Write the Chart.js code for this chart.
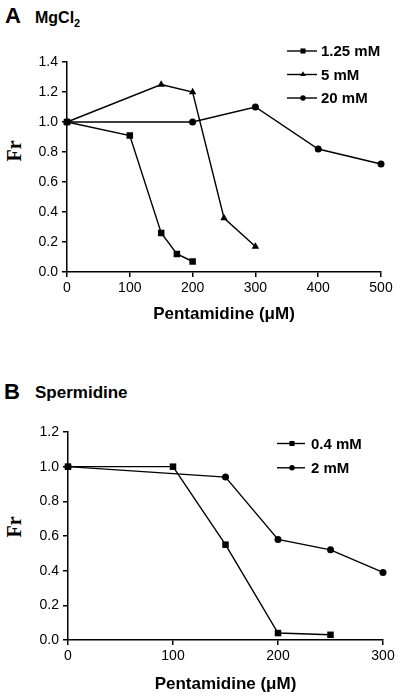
<!DOCTYPE html>
<html>
<head>
<meta charset="utf-8">
<script src="https://cdn.jsdelivr.net/npm/chart.js@4"></script>
<style>
  body { margin: 0; background: #fff; }
  #page { position: relative; width: 400px; height: 699px; overflow: hidden; font-family: "Liberation Sans", Arial, Helvetica, sans-serif; color: #000; }
  canvas { position: absolute; left: 0; }
  .lbl { position: absolute; font-weight: bold; line-height: 1; white-space: nowrap; }
  .fr { position: absolute; font-family: "Liberation Serif", "Times New Roman", serif; font-weight: bold; font-size: 20px; line-height: 1; transform: translate(-50%, -50%) rotate(-90deg); }
</style>
</head>
<body>
<div id="page">
  <div class="lbl" style="left:5px; top:5px; font-size:22px;">A</div>
  <div class="lbl" style="left:35px; top:10px; font-size:16px;">MgCl<sub style="font-size:11px;">2</sub></div>
  <div class="fr" style="left:14px; top:151px;">Fr</div>
  <canvas id="chartA" width="400" height="325" style="top:0px;"></canvas>

  <div class="lbl" style="left:4px; top:381px; font-size:22px;">B</div>
  <div class="lbl" style="left:35px; top:384px; font-size:17px;">Spermidine</div>
  <div class="fr" style="left:14px; top:527px;">Fr</div>
  <canvas id="chartB" width="400" height="315" style="top:380px;"></canvas>
</div>
<script>
// ===== Data: panel A (MgCl2) =====
const xA_125 = [0, 100, 150, 175, 200];
const yA_125 = [1.0, 0.91, 0.26, 0.12, 0.07];
const xA_5 = [0, 150, 200, 250, 300];
const yA_5 = [1.0, 1.25, 1.2, 0.36, 0.17];
const xA_20 = [0, 200, 300, 400, 500];
const yA_20 = [1.0, 1.0, 1.1, 0.82, 0.72];
const xTicksA = [0, 100, 200, 300, 400, 500];
const yTicksA = [0.0, 0.2, 0.4, 0.6, 0.8, 1.0, 1.2, 1.4];

// ===== Data: panel B (Spermidine) =====
const xB_04 = [0, 100, 150, 200, 250];
const yB_04 = [1.0, 1.0, 0.55, 0.04, 0.03];
const xB_2 = [0, 150, 200, 250, 300];
const yB_2 = [1.0, 0.94, 0.58, 0.52, 0.39];
const xTicksB = [0, 100, 200, 300];
const yTicksB = [0.0, 0.2, 0.4, 0.6, 0.8, 1.0, 1.2];

const FONT = '"Liberation Sans", Arial, Helvetica, sans-serif';
Chart.defaults.font.family = FONT;
Chart.defaults.color = '#000';

function pts(xs, ys) {
    return xs.map((x, i) => ({ x: x, y: ys[i] }));
}

function series(label, xs, ys, style, radius) {
    return {
        label: label,
        data: pts(xs, ys),
        pointStyle: style,
        pointRadius: radius,
        pointHoverRadius: radius,
        pointBackgroundColor: '#000',
        pointBorderColor: '#000',
        pointBorderWidth: 0,
        borderColor: '#000',
        borderWidth: 1.4,
        backgroundColor: '#000',
        tension: 0,
        clip: false
    };
}

// ===== Legend: line segment + marker + bold text =====
const lineLegend = {
    id: 'lineLegend',
    afterDraw(chart, args, opts) {
        const ctx = chart.ctx;
        chart.data.datasets.forEach((ds, i) => {
            const y = opts.y0 + i * opts.dy;
            ctx.save();
            ctx.strokeStyle = '#000';
            ctx.fillStyle = '#000';
            ctx.lineWidth = 1.4;
            ctx.beginPath();
            ctx.moveTo(opts.x0, y);
            ctx.lineTo(opts.x1, y);
            ctx.stroke();
            Chart.helpers.drawPoint(ctx, {
                pointStyle: ds.pointStyle,
                radius: opts.radius[ds.pointStyle],
                rotation: 0,
                borderWidth: 0
            }, opts.mx, y);
            ctx.font = 'bold 15px ' + FONT;
            ctx.textBaseline = 'middle';
            ctx.textAlign = 'left';
            ctx.fillText(ds.label, opts.tx, y + 1);
            ctx.restore();
        });
    }
};

function makeChart(id, datasets, xMax, xTicks, yMax, yTicks, geo) {
    const ctx = document.getElementById(id).getContext('2d');
    return new Chart(ctx, {
        type: 'line',
        data: { datasets: datasets },
        plugins: [lineLegend],
        options: {
            responsive: false,
            animation: false,
            events: [],
            layout: { padding: { left: 0, right: geo.right, top: geo.top, bottom: 0 } },
            plugins: {
                legend: { display: false },
                tooltip: { enabled: false },
                lineLegend: geo.legend
            },
            scales: {
                x: {
                    type: 'linear',
                    min: 0,
                    max: xMax,
                    afterBuildTicks: (s) => { s.ticks = xTicks.map(v => ({ value: v })); },
                    afterFit: (s) => { s.height = geo.xHeight; },
                    border: { display: true, color: '#000', width: 1.5 },
                    grid: { display: true, drawOnChartArea: false, drawTicks: true, tickLength: 5, color: '#000', lineWidth: 1.5 },
                    ticks: { color: '#000', font: { size: 14 }, padding: 3, maxRotation: 0, callback: v => String(v) },
                    title: { display: true, text: 'Pentamidine (\u03BCM)', color: '#000', font: { size: 17, weight: 'bold' }, padding: { top: 0, bottom: 0 } }
                },
                y: {
                    type: 'linear',
                    min: 0,
                    max: yMax,
                    afterBuildTicks: (s) => { s.ticks = yTicks.map(v => ({ value: v })); },
                    afterFit: (s) => { s.width = geo.yWidth; },
                    border: { display: true, color: '#000', width: 1.5 },
                    grid: { display: true, drawOnChartArea: false, drawTicks: true, tickLength: 5, color: '#000', lineWidth: 1.5 },
                    ticks: { color: '#000', font: { size: 14 }, padding: 4, callback: v => Number(v).toFixed(1) }
                }
            }
        }
    });
}

const legendRadius = { rect: 3.6, triangle: 3.2, circle: 2.7 };

makeChart('chartA', [
    series('1.25 mM', xA_125, yA_125, 'rect', 4.6),
    series('5 mM', xA_5, yA_5, 'triangle', 4.3),
    series('20 mM', xA_20, yA_20, 'circle', 3.5)
], 500, xTicksA, 1.4, yTicksA, {
    top: 62, right: 19, yWidth: 67, xHeight: 53,
    legend: { x0: 287, x1: 317, mx: 303, tx: 321, y0: 51, dy: 23.5, radius: legendRadius }
});

makeChart('chartB', [
    series('0.4 mM', xB_04, yB_04, 'rect', 4.6),
    series('2 mM', xB_2, yB_2, 'circle', 3.5)
], 300, xTicksB, 1.2, yTicksB, {
    top: 52, right: 17, yWidth: 68, xHeight: 55,
    legend: { x0: 277, x1: 305, mx: 292, tx: 311, y0: 63.5, dy: 24.3, radius: legendRadius }
});
</script>
</body>
</html>
